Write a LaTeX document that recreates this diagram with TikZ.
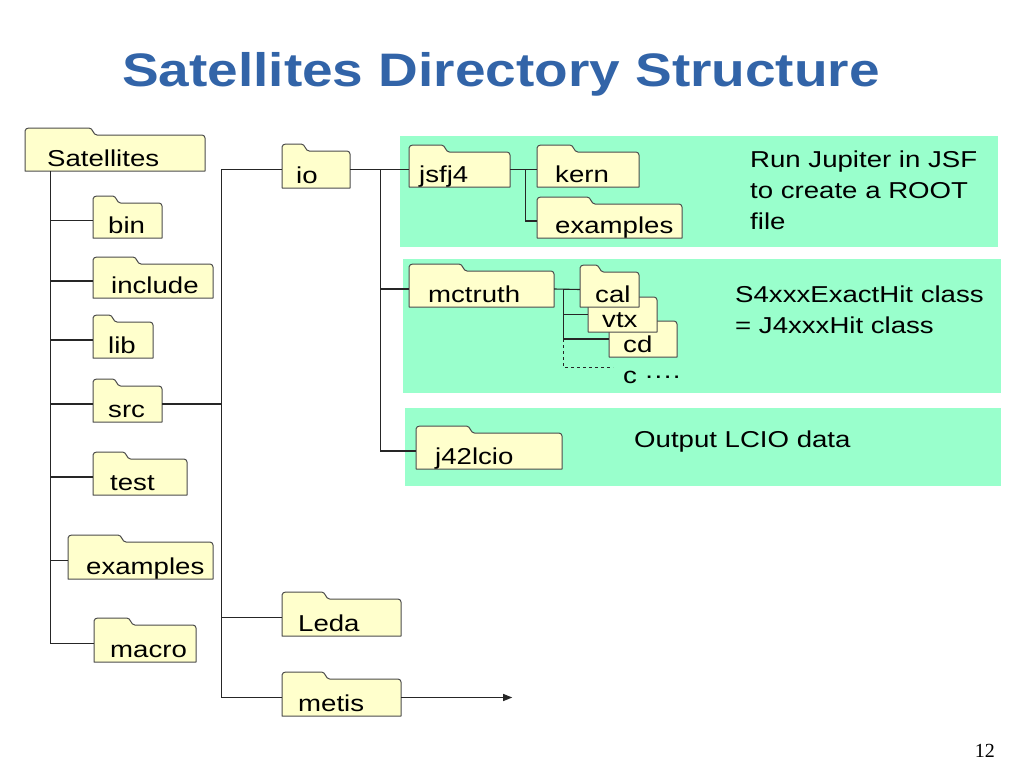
\documentclass[tikz,border=0pt]{standalone}
\usepackage{fontspec}
\setmainfont{Liberation Sans}[FakeStretch=1.2]
\newfontfamily\titlefont{Liberation Sans}[FakeStretch=1.17]
\newfontfamily\numfont{Liberation Serif}
\usetikzlibrary{arrows.meta,calc}
\definecolor{foldfill}{RGB}{255,255,204}
\definecolor{greenbg}{RGB}{153,255,204}
\definecolor{titleblue}{RGB}{50,100,168}
\tikzset{
  folderline/.style={draw=black!70, fill=foldfill, line width=1pt, line join=round},
  fbody/.style={inner sep=0pt, draw=none, rectangle},
  lbl/.style={inner sep=0pt, font=\fontsize{23}{28}\selectfont, anchor=base west},
  conn/.style={draw=black!85, line width=1.1pt},
  dashconn/.style={draw=black!85, line width=0.9pt, dashed},
  note/.style={inner sep=0pt, font=\fontsize{23}{31}\selectfont, align=left, anchor=base west},
  panel/.style={fill=greenbg, draw=none},
}
\newcommand\mkfolder[7]{%
  \pgfmathsetmacro\fxt{#2+0.4*(#4-#2)}%
  \pgfmathsetmacro\fyb{#3+7}%
  \pgfmathsetmacro\fw{#4-#2}%
  \pgfmathsetmacro\fh{#5-\fyb}%
  \path[folderline] (#2,#5) -- (#2,#3+3) to[out=90,in=180] (#2+4,#3) -- (\fxt-8,#3) to[out=0,in=180] (\fxt,\fyb) -- (#4-3,\fyb) to[out=0,in=90] (#4,\fyb+3) -- (#4,#5) -- cycle;
  \node[fbody, minimum width=\fw pt, minimum height=\fh pt] (#1) at ({(#2+#4)/2},{(\fyb+#5)/2}) {};
  \node[lbl] (#1t) at (#2+#6,#5-4.5) {#7};
}
\begin{document}
\begin{tikzpicture}[x=1pt,y=-1pt]
\useasboundingbox[fill=white] (0,0) rectangle (1024,768);
% panels
\path[panel] (400,136) rectangle (998,247);
\path[panel] (403,259) rectangle (1001,393);
\path[panel] (405,408) rectangle (1001,486);
% title and page number
\node[inner sep=0pt, font=\titlefont\bfseries\fontsize{47}{56}\selectfont, text=titleblue, anchor=base] (title) at (501,86) {Satellites Directory Structure};
\node[inner sep=0pt, font=\numfont\fontsize{20}{24}\selectfont, anchor=base east] (pg) at (995,757) {12};
% folders
\mkfolder{sat}{25}{128}{205}{171}{22}{Satellites}
\mkfolder{bin}{93}{196}{162}{238}{15}{bin}
\mkfolder{inc}{93}{257}{213}{298}{18}{include}
\mkfolder{lib}{93}{315}{153}{358}{15}{lib}
\mkfolder{src}{93}{379}{162}{422}{15}{src}
\mkfolder{test}{93}{452}{187}{495}{17}{test}
\mkfolder{exa}{68}{535}{213}{579}{18}{examples}
\mkfolder{macro}{94}{618}{196}{662}{16}{macro}
\mkfolder{io}{282}{144}{350}{188}{14}{io}
\mkfolder{leda}{282}{592}{401}{636}{16}{Leda}
\mkfolder{metis}{282}{672}{401}{716}{16}{metis}
\mkfolder{jsf}{409}{145}{510}{187}{10}{jsfj4}
\mkfolder{kern}{537}{145}{639}{187}{18}{kern}
\mkfolder{exb}{537}{197}{682}{238}{18}{examples}
\mkfolder{mct}{409}{264}{554}{307}{19}{mctruth}
\mkfolder{cd}{609}{314}{677}{357}{14}{cd}
\mkfolder{vtx}{588}{290}{657}{332}{14}{vtx}
\mkfolder{cal}{580}{265}{639}{307}{15}{cal}
\mkfolder{j42}{416}{426}{562}{469}{19}{j42lcio}
% trunk 1
\coordinate (t1) at ($(sat.south west)+(26,0)$);
\draw[conn] (t1) |- (macro.west);
\foreach \n in {bin,inc,lib,src,test,exa} \draw[conn] (t1 |- \n.west) -- (\n.west);
% trunk 2
\coordinate (t2) at ($(src.east)+(59,0)$);
\draw[conn] (src.east) -- (t2);
\draw[conn] (io.west) -| (t2 |- metis.west) -- (metis.west);
\draw[conn] (t2 |- leda.west) -- (leda.west);
\coordinate (aend) at ($(metis.east)+(111,0)$);
\draw[conn, -{Triangle[length=9pt,width=7pt]}] (metis.east) -- (aend);
% trunk 3
\coordinate (t3) at ($(io.east)+(30,0)$);
\draw[conn] (io.east) -- (jsf.west);
\draw[conn] (t3) |- (j42.west);
\draw[conn] (t3 |- mct.west) -- (mct.west);
% jsfj4 branch
\draw[conn] (jsf.east) -- (kern.west);
\coordinate (b1) at ($(jsf.east)+(15,0)$);
\draw[conn] (b1) |- (exb.west);
% mctruth branch
\draw[conn] (mct.east) -- (cal.west);
\coordinate (b2) at ($(mct.east)+(9,0)$);
\draw[conn] (b2) |- (vtx.west);
\draw[conn] (b2 |- vtx.west) |- (cd.west);
\coordinate (dend) at ($(b2 |- cd.west)+(50,28)$);
\draw[dashconn] (b2 |- cd.west) |- (dend);
\node[note] (more) at (623,383) {c ····};
% notes (base anchor = baseline of the last line)
\node[note] (n1) at (750,229) {Run Jupiter in JSF\\to create a ROOT\\file};
\node[note] (n2) at (735,333) {S4xxxExactHit class\\= J4xxxHit class};
\node[note] (n3) at (634,447) {Output LCIO data};
\end{tikzpicture}
\end{document}
